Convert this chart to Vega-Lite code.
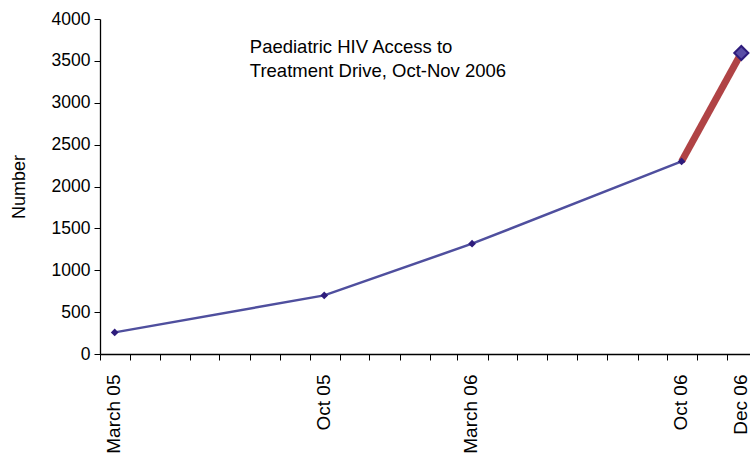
{
  "$schema": "https://vega.github.io/schema/vega-lite/v6.json",
  "width": 657,
  "height": 335,
  "autosize": "none",
  "padding": {"left": 100, "top": 19, "right": 0, "bottom": 103},
  "background": "white",
  "config": {
    "view": {"stroke": null},
    "font": "Liberation Sans",
    "axis": {
      "grid": false,
      "domainColor": "black",
      "tickColor": "black",
      "labelColor": "black",
      "titleColor": "black",
      "labelFont": "Liberation Sans",
      "titleFont": "Liberation Sans"
    }
  },
  "datasets": {
    "main": [
      {"date": "2005-03-16", "label": "March 05", "value": 258},
      {"date": "2005-10-16", "label": "Oct 05", "value": 700},
      {"date": "2006-03-16", "label": "March 06", "value": 1317},
      {"date": "2006-10-16", "label": "Oct 06", "value": 2300}
    ],
    "drive": [
      {"date": "2006-10-16", "label": "Oct 06", "value": 2300},
      {"date": "2006-12-16", "label": "Dec 06", "value": 3594}
    ]
  },
  "layer": [
    {
      "data": {"name": "main"},
      "mark": {"type": "line", "color": "#4F4F9E", "strokeWidth": 2.5},
      "encoding": {
        "x": {
          "field": "date",
          "type": "temporal",
          "scale": {"domain": [{"year": 2005, "month": 3, "date": 1}, {"year": 2007, "month": 1, "date": 1}]},
          "axis": {
            "title": null,
            "tickCount": {"interval": "month", "step": 1},
            "labelExpr": "timeFormat(datum.value, '%Y-%m') == '2005-03' ? 'March 05' : timeFormat(datum.value, '%Y-%m') == '2005-10' ? 'Oct 05' : timeFormat(datum.value, '%Y-%m') == '2006-03' ? 'March 06' : timeFormat(datum.value, '%Y-%m') == '2006-10' ? 'Oct 06' : timeFormat(datum.value, '%Y-%m') == '2006-12' ? 'Dec 06' : ''",
            "labelAngle": -90,
            "labelAlign": "right",
            "labelBaseline": "middle",
            "labelOffset": 13.5,
            "labelPadding": 14,
            "labelFontSize": 19,
            "labelOverlap": false,
            "labelBound": false,
            "labelFlush": false,
            "tickSize": 6,
            "domainWidth": 1.3
          }
        },
        "y": {
          "field": "value",
          "type": "quantitative",
          "scale": {"domain": [0, 4000], "nice": false},
          "axis": {
            "title": "Number",
            "values": [0, 500, 1000, 1500, 2000, 2500, 3000, 3500, 4000],
            "format": "d",
            "labelFontSize": 17.5,
            "titleFontSize": 18,
            "titleFontWeight": "normal",
            "titlePadding": 23,
            "labelPadding": 4,
            "tickSize": 6,
            "domainWidth": 1.3
          }
        }
      }
    },
    {
      "data": {"name": "drive"},
      "mark": {"type": "line", "color": "#B04345", "strokeWidth": 7},
      "encoding": {
        "x": {"field": "date", "type": "temporal"},
        "y": {"field": "value", "type": "quantitative"}
      }
    },
    {
      "data": {"name": "main"},
      "mark": {"type": "point", "shape": "diamond", "filled": true, "size": 60, "color": "#2E1C7C", "opacity": 1},
      "encoding": {
        "x": {"field": "date", "type": "temporal"},
        "y": {"field": "value", "type": "quantitative"}
      }
    },
    {
      "data": {"name": "drive"},
      "transform": [{"filter": "datum.label == 'Dec 06'"}],
      "mark": {"type": "point", "shape": "diamond", "filled": true, "size": 200, "fill": "#5A4EA6", "stroke": "#2E1C7C", "strokeWidth": 2, "opacity": 1},
      "encoding": {
        "x": {"field": "date", "type": "temporal"},
        "y": {"field": "value", "type": "quantitative"}
      }
    },
    {
      "data": {"values": [{}]},
      "mark": {"type": "text", "align": "left", "baseline": "top", "fontSize": 18.5, "lineHeight": 24, "lineBreak": "\n", "color": "black", "font": "Liberation Sans"},
      "encoding": {
        "x": {"datum": {"year": 2005, "month": 8, "date": 1}, "type": "temporal"},
        "y": {"datum": 3770, "type": "quantitative"},
        "text": {"value": "Paediatric HIV Access to\nTreatment Drive, Oct-Nov 2006"}
      }
    }
  ]
}
